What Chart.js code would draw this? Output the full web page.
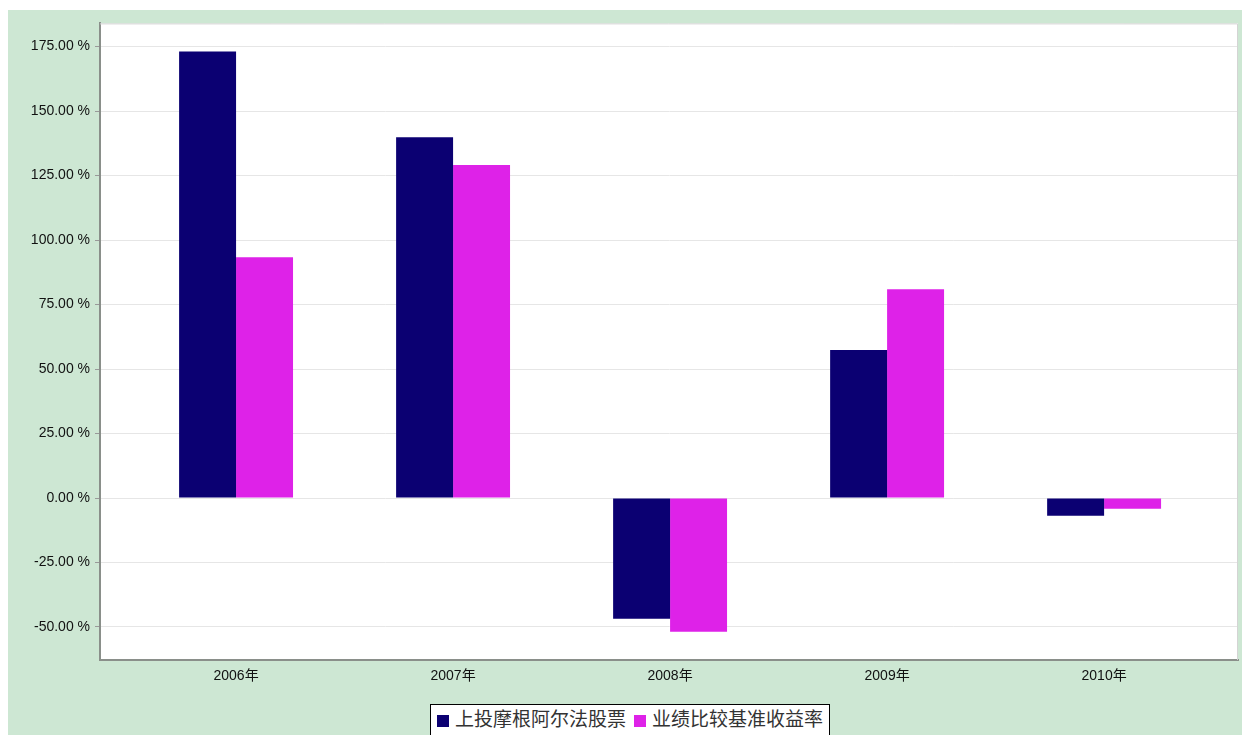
<!DOCTYPE html>
<html lang="zh">
<head>
<meta charset="UTF-8">
<title>上投摩根阿尔法股票 历年收益率</title>
<script src="https://cdn.jsdelivr.net/npm/chart.js@4.4.0/dist/chart.umd.min.js"></script>
<style>
    body { margin: 0; background: #fff; width: 1242px; height: 735px; overflow: hidden; position: relative; }
    #wrap { position: absolute; left: 8px; top: 10px; width: 1234px; height: 725px; background: #cde7d3; }
    #legend {
        position: absolute; left: 430px; top: 704px; width: 400px; height: 40px;
        background: #fff; border: 1px solid #000; box-sizing: border-box;
        font-family: "Noto Sans CJK SC", sans-serif; font-size: 19px; line-height: 22px; color: #333;
        display: flex; align-items: flex-start; padding: 2px 0 0 6px; white-space: nowrap;
    }
    #legend span.box { display: inline-block; width: 12px; height: 12px; margin: 8px 6px 0 0; }
    #legend span.item { display: flex; margin-right: 8px; }
</style>
</head>
<body>
<div id="wrap"><canvas id="chart"></canvas></div>
<div id="legend"></div>

<script>
    // 年度收益率数据
    const years = ['2006年', '2007年', '2008年', '2009年', '2010年'];
    const fundName = '上投摩根阿尔法股票';
    const benchName = '业绩比较基准收益率';
    const fundReturns = [173.1, 139.9, -46.8, 57.4, -6.9];
    const benchReturns = [93.3, 129.1, -51.8, 80.9, -4.2];
    const yTicks = [-50, -25, 0, 25, 50, 75, 100, 125, 150, 175];
    const colors = ['#0b0072', '#de22e8'];

    // 白色绘图区 + 上/右边框
    const plotBg = {
        id: 'plotBg',
        beforeDraw(chart) {
            const a = chart.chartArea, ctx = chart.ctx;
            ctx.save();
            ctx.fillStyle = '#fff';
            ctx.fillRect(a.left, a.top, a.right - a.left, a.bottom - a.top);
            ctx.restore();
        },
        afterDraw(chart) {
            const a = chart.chartArea, ctx = chart.ctx;
            ctx.save();
            ctx.strokeStyle = '#d4d4d4';
            ctx.lineWidth = 1;
            ctx.beginPath();
            ctx.moveTo(a.left, a.top + 0.5);
            ctx.lineTo(a.right - 0.5, a.top + 0.5);
            ctx.lineTo(a.right - 0.5, a.bottom);
            ctx.stroke();
            ctx.restore();
        }
    };

    const pts = (arr) => arr.map((v, i) => ({ x: i, y: v }));

    new Chart(document.getElementById('chart'), {
        type: 'bar',
        data: {
            datasets: [
                { label: fundName, data: pts(fundReturns), backgroundColor: colors[0] },
                { label: benchName, data: pts(benchReturns), backgroundColor: colors[1] }
            ]
        },
        options: {
            responsive: true,
            maintainAspectRatio: false,
            animation: false,
            layout: { padding: { left: 0, top: 10, right: 4, bottom: 0 } },
            datasets: { bar: { categoryPercentage: 0.525, barPercentage: 1.0 } },
            plugins: { legend: { display: false }, tooltip: { enabled: false } },
            scales: {
                x: {
                    type: 'linear',
                    offset: false,
                    min: -0.627, max: 4.617,
                    grid: { display: false, drawTicks: false, offset: false },
                    border: { color: '#8a8f8a', width: 2 },
                    ticks: {
                        padding: 8, color: '#111',
                        font: { family: '"Liberation Sans", "Noto Sans CJK SC", sans-serif', size: 14 },
                        callback: v => years[v]
                    },
                    afterBuildTicks(scale) { scale.ticks = years.map((y, i) => ({ value: i })); },
                    afterFit(scale) { scale.height = 75; }
                },
                y: {
                    min: -62.8, max: 184,
                    grid: { color: '#e6e6e6', tickColor: '#999', tickLength: 5, drawTicks: true },
                    border: { color: '#8a8f8a', width: 2 },
                    ticks: {
                        includeBounds: false, padding: 5, color: '#111',
                        font: { family: '"Liberation Sans", sans-serif', size: 14 },
                        callback: v => v.toFixed(2) + ' %'
                    },
                    afterBuildTicks(scale) { scale.ticks = yTicks.map(v => ({ value: v })); },
                    afterFit(scale) { scale.width = 92; }
                }
            }
        },
        plugins: [plotBg]
    });

    // 图例
    const legend = document.getElementById('legend');
    [fundName, benchName].forEach((name, i) => {
        legend.insertAdjacentHTML('beforeend',
            `<span class="item"><span class="box" style="background:${colors[i]}"></span>${name}</span>`);
    });
</script>
</body>
</html>
